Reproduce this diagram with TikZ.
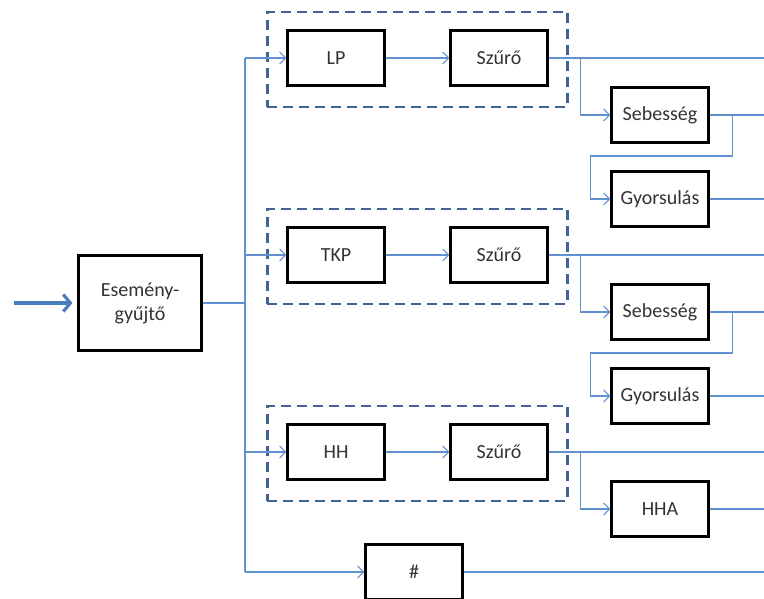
\documentclass[tikz,border=0pt]{standalone}
\usepackage{fontspec}
\setmainfont{Carlito}
\usetikzlibrary{positioning, fit, arrows.meta}
\definecolor{linkblue}{RGB}{98,145,208}
\definecolor{groupblue}{RGB}{66,100,148}
\definecolor{inblue}{RGB}{74,126,190}

\begin{document}
\begin{tikzpicture}[x=1pt,y=-1pt,on grid,node distance=163pt,
		block/.style={draw,line width=2.2pt,minimum width=97pt,minimum height=55pt,
			font=\fontsize{20}{24}\selectfont,text=black!80},
		group/.style={draw=groupblue,line width=2.4pt,dash pattern=on 10pt off 6pt,
			inner xsep=19pt,inner ysep=19pt,yshift=-1.5pt},
		link/.style={linkblue,line width=1.1pt},
		flow/.style={link,-{Straight Barb[length=6pt,width=12pt]}}]
		\useasboundingbox (0,0) rectangle (764,599);
		% right edge, where all outputs leave the picture
		\coordinate (edge) at (764,0);
		\coordinate (in) at (14,303);
		\node[block, minimum width=123pt, minimum height=95pt, align=center] (esg) at (140,303) {Esemény-\\gyűjtő};
		\coordinate (bustop) at (245,58);
		\coordinate (busbot) at (245,572);

		% LP row
		\node[block] (lp) 	at (336,58) 		{LP};
		\node[block] (sz1) 	[right=of lp] 		{Szűrő};
		\node[block] (seb1) 	at (660,115) 		{Sebesség};
		\node[block] (gy1) 	[below=84pt of seb1] 	{Gyorsulás};
		\node[group, fit=(lp)(sz1)] (grp1) {};

		% TKP row
		\node[block] (tkp) 	at (336,255) 		{TKP};
		\node[block] (sz2) 	[right=of tkp] 		{Szűrő};
		\node[block] (seb2) 	at (660,312) 		{Sebesség};
		\node[block] (gy2) 	[below=84pt of seb2] 	{Gyorsulás};
		\node[group, fit=(tkp)(sz2)] (grp2) {};

		% HH row
		\node[block] (hh) 	at (336,452) 		{HH};
		\node[block] (sz3) 	[right=of hh] 		{Szűrő};
		\node[block] (hha) 	at (660,509) 		{HHA};
		\node[group, fit=(hh)(sz3)] (grp3) {};

		\node[block] (hash) 	at (414,572) 		{\#};

		\draw[inblue,line width=3.2pt,-{Straight Barb[length=7pt,width=17pt]},shorten >=5pt] (in) -- (esg);
		\draw[link] (esg.east) -- (esg.east -| bustop);
		\draw[link] (bustop) -- (busbot);
		\path[flow]
			(bustop) 		edge (lp)
			(tkp.west -| bustop) 	edge (tkp)
			(hh.west -| bustop) 	edge (hh)
			(busbot) 		edge (hash)
			(lp) 			edge (sz1)
			(tkp) 			edge (sz2)
			(hh) 			edge (sz3);
		\foreach \n in {sz1,seb1,gy1,sz2,seb2,gy2,sz3,hha,hash}
			\draw[link] (\n.east) -- (\n.east -| edge);
		\draw[flow] (sz1.east) ++(32,0) |- (seb1);
		\draw[flow] (sz2.east) ++(32,0) |- (seb2);
		\draw[flow] (sz3.east) ++(32,0) |- (hha);
		\draw[flow] (seb1.east) ++(23,0) -- ++(0,41) -- ++(-142,0) |- (gy1);
		\draw[flow] (seb2.east) ++(23,0) -- ++(0,41) -- ++(-142,0) |- (gy2);
	\end{tikzpicture}
\end{document}
